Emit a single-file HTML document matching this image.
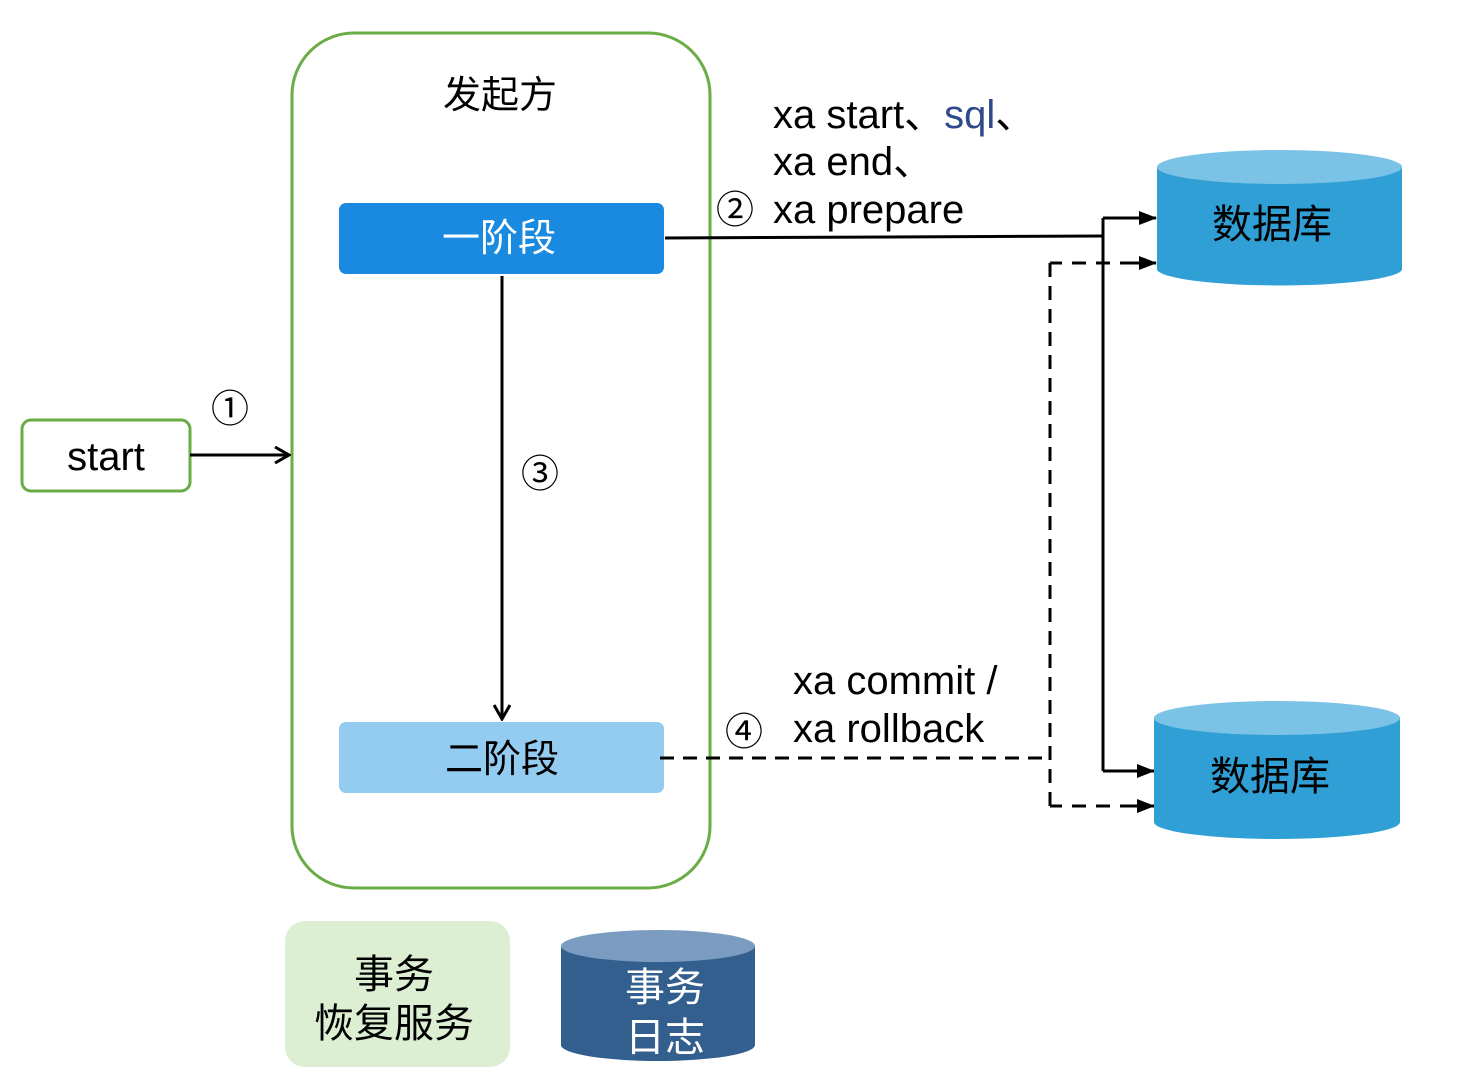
<!DOCTYPE html>
<html><head><meta charset="utf-8"><style>html,body{margin:0;padding:0;background:#fff}svg{display:block}text{font-family:"Liberation Sans","Noto Sans CJK SC",sans-serif}</style></head><body>
<svg width="1458" height="1080" viewBox="0 0 1458 1080" xmlns="http://www.w3.org/2000/svg">
<defs>
<marker id="a" markerWidth="18" markerHeight="14" refX="17" refY="7" orient="auto" markerUnits="userSpaceOnUse"><path d="M0,0 L18,7 L0,14 z" fill="#000"/></marker>
<marker id="o" markerWidth="18" markerHeight="18" refX="16" refY="9" orient="auto" markerUnits="userSpaceOnUse"><path d="M2,1 L16,9 L2,17" fill="none" stroke="#000" stroke-width="3"/></marker>
</defs>
<rect x="292" y="33" width="418" height="855" rx="62" fill="none" stroke="#6aac46" stroke-width="3"/>
<text x="500" y="108" font-size="38" text-anchor="middle">发起方</text>
<rect x="339" y="203" width="325" height="71" rx="7" fill="#1a8ae0"/>
<text x="499" y="251" font-size="38" fill="#fff" text-anchor="middle">一阶段</text>
<rect x="339" y="722" width="325" height="71" rx="7" fill="#94cbf1"/>
<text x="502" y="772" font-size="38" text-anchor="middle">二阶段</text>
<rect x="22" y="420" width="168" height="71" rx="9" fill="#fff" stroke="#6aac46" stroke-width="3"/>
<text x="106" y="470" font-size="40" text-anchor="middle">start</text>
<line x1="190" y1="455" x2="289" y2="455" stroke="#000" stroke-width="3" marker-end="url(#o)"/>
<text x="230" y="422" font-size="38" text-anchor="middle">①</text>
<line x1="502" y1="276" x2="502" y2="719" stroke="#000" stroke-width="3" marker-end="url(#o)"/>
<text x="540" y="487" font-size="38" text-anchor="middle">③</text>
<g stroke="#000" stroke-width="3" fill="none">
<path d="M665,238 L1103,236"/>
<path d="M1103,218 L1103,771"/>
<line x1="1103" y1="218" x2="1156" y2="218" marker-end="url(#a)"/>
<line x1="1103" y1="771" x2="1154" y2="771" marker-end="url(#a)"/>
</g>
<g stroke="#000" stroke-width="3" fill="none" stroke-dasharray="14,9">
<path d="M660,758 L1050,758"/>
<path d="M1050,263 L1050,806"/>
</g>
<g stroke="#000" stroke-width="3" fill="none">
<path d="M1050,263 L1062,263 M1072,263 L1086,263 M1096,263 L1110,263 M1120,263 L1140,263" />
<line x1="1138" y1="263" x2="1156" y2="263" marker-end="url(#a)"/>
<path d="M1050,806 L1062,806 M1072,806 L1086,806 M1096,806 L1110,806 M1120,806 L1138,806" />
<line x1="1136" y1="806" x2="1154" y2="806" marker-end="url(#a)"/>
</g>
<path d="M1157,167 L1157,270 A123,17 0 0 0 1402,270 L1402,167 z" fill="#2f9fd6"/>
<ellipse cx="1279.5" cy="167" rx="122.5" ry="17" fill="#7ac3e6"/>
<text x="1272" y="238" font-size="40" text-anchor="middle">数据库</text>
<path d="M1154,718 L1154,822 A123,17 0 0 0 1400,822 L1400,718 z" fill="#2f9fd6"/>
<ellipse cx="1277" cy="718" rx="123" ry="17" fill="#7ac3e6"/>
<text x="1270" y="790" font-size="40" text-anchor="middle">数据库</text>
<text x="773" y="128" font-size="40">xa start、<tspan fill="#2e4a8a">sql</tspan>、</text>
<text x="773" y="175" font-size="40">xa end、</text>
<text x="773" y="223" font-size="40">xa prepare</text>
<text x="735" y="223" font-size="38" text-anchor="middle">②</text>
<text x="793" y="694" font-size="40">xa commit /</text>
<text x="793" y="742" font-size="40">xa rollback</text>
<text x="744" y="745" font-size="38" text-anchor="middle">④</text>
<rect x="285" y="921" width="225" height="146" rx="20" fill="#dcefd3"/>
<text x="394" y="988" font-size="40" text-anchor="middle">事务</text>
<text x="394" y="1037" font-size="40" text-anchor="middle">恢复服务</text>
<path d="M561,946 L561,1045 A97,16 0 0 0 755,1045 L755,946 z" fill="#335f8f"/>
<ellipse cx="658" cy="946" rx="97" ry="16" fill="#7b9cc0"/>
<text x="665" y="1001" font-size="40" fill="#fff" text-anchor="middle">事务</text>
<text x="665" y="1051" font-size="40" fill="#fff" text-anchor="middle">日志</text>
</svg>
</body></html>
